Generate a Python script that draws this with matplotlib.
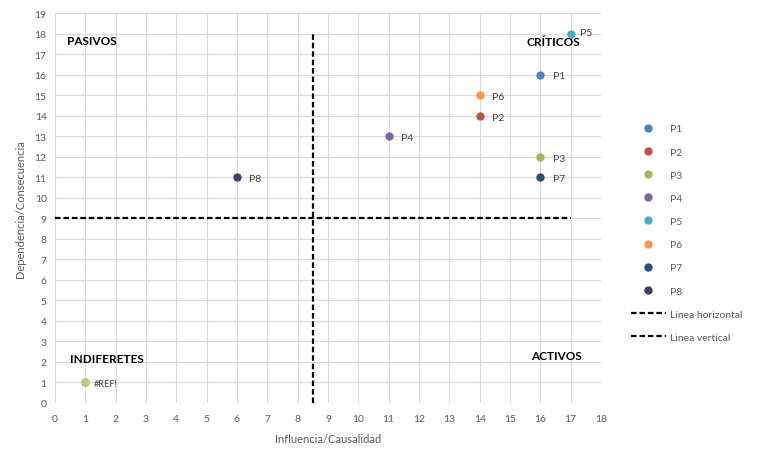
import matplotlib.pyplot as plt

plt.rcParams['font.family'] = ['Lato', 'DejaVu Sans']

# datos
puntos = ['P1', 'P2', 'P3', 'P4', 'P5', 'P6', 'P7', 'P8']
influencia = [16, 14, 16, 11, 17, 14, 16, 6]
dependencia = [16, 14, 12, 13, 18, 15, 11, 11]
colores = ['#4F81BD', '#C0504D', '#9BBB59', '#8064A2', '#4BACC6', '#F79646', '#2C4D75', '#4D3B62']

ref_x = [1]
ref_y = [1]

linea_h_x = [0, 17]
linea_h_y = [9, 9]
linea_v_x = [8.5, 8.5]
linea_v_y = [0, 18]

cuadrantes = ['PASIVOS', 'CRÍTICOS', 'INDIFERETES', 'ACTIVOS']
cuadrantes_x = [0.4, 15.55, 0.5, 15.7]
cuadrantes_y = [17.65, 17.6, 2.15, 2.3]

fig = plt.figure(figsize=(7.62, 4.52), dpi=100)
ax = fig.add_axes([55 / 762, 48 / 452, 546 / 762, 390 / 452])

for nombre, x, y, c in zip(puntos, influencia, dependencia, colores):
    ax.plot(x, y, 'o', color=c, markersize=5, label=nombre, zorder=3)
    if nombre == 'P5':
        ax.annotate(nombre, (x, y), xytext=(7, 1), textcoords='offset points',
                    fontsize=7.5, color='#404040', va='center')
    else:
        ax.annotate(nombre, (x, y), xytext=(9, -1), textcoords='offset points',
                    fontsize=7.5, color='#404040', va='center')

ax.plot(ref_x, ref_y, 'o', color='#B9CD82', markersize=5.5, zorder=3)
ax.annotate('#REF!', (ref_x[0], ref_y[0]), xytext=(6, -1), textcoords='offset points',
            fontsize=6.5, color='#404040', va='center')

ax.plot(linea_h_x, linea_h_y, color='black', lw=1.6, ls=(0, (2.5, 1.3)), label='Linea horizontal')
ax.plot(linea_v_x, linea_v_y, color='black', lw=1.6, ls=(0, (2.5, 1.3)), label='Linea vertical')

for texto, x, y in zip(cuadrantes, cuadrantes_x, cuadrantes_y):
    ax.text(x, y, texto, fontsize=8.5, fontweight='bold', color='black', va='center')

ax.set_xlim(0, 18)
ax.set_ylim(0, 19)
ax.set_xticks(range(0, 19))
ax.set_yticks(range(0, 20))
ax.grid(True, color='#D9D9D9', lw=0.8)
ax.set_axisbelow(True)
for s in ax.spines.values():
    s.set_visible(False)
ax.tick_params(length=0, labelsize=7.5, colors='#595959')
ax.tick_params(axis='x', pad=8)
ax.tick_params(axis='y', pad=6)

ax.set_xlabel('Influencia/Causalidad', fontsize=8, color='#595959', labelpad=7)
ax.set_ylabel('Dependencia/Consecuencia', fontsize=8, color='#595959', labelpad=6)

fig.legend(loc='upper left', bbox_to_anchor=(626 / 762, 1 - 120 / 452), frameon=False,
           fontsize=7.5, labelspacing=1.33, handlelength=3.3, handletextpad=0.4,
           borderpad=0, labelcolor='#595959')

fig.savefig('out.png', dpi=100)
